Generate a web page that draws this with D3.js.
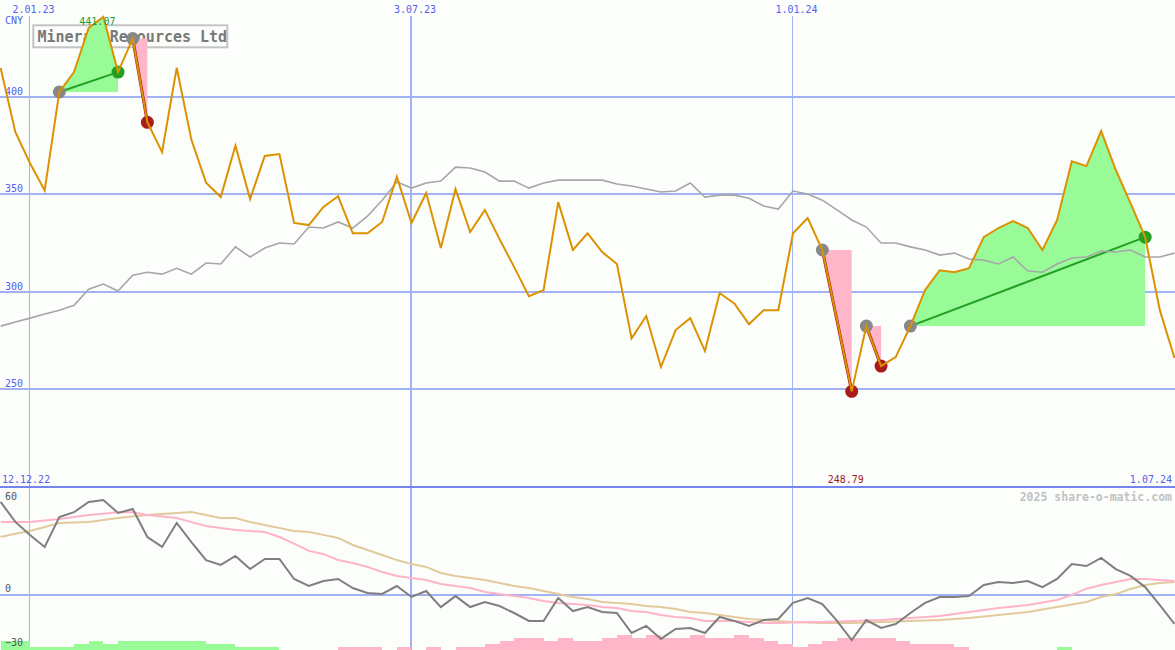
<!DOCTYPE html>
<html><head><meta charset="utf-8">
<script src="https://cdn.jsdelivr.net/npm/d3@7"></script>
<style>
html,body{margin:0;padding:0;background:#fcfefc;}
svg{display:block;}
text{font-family:"DejaVu Sans Mono",monospace;}
</style></head><body>
<svg id="c" width="1175" height="650"></svg>
<script>
// ---------- data ----------
const firstWeek = "2022-12-19";
const lastWeek = "2024-07-01";
const title = "Mineral Resources Ltd";
const currency = "CNY";
const rangeLabels = ["12.12.22", "1.07.24"];
const watermark = "2025 share-o-matic.com";
const dateTicks = ["2023-01-02", "2023-07-03", "2024-01-01"];
const priceTicks = [250, 300, 350, 400];
const oscTicks = [60, 0, -30];

const price = [414.9,382,366,352,402.6,412.8,435.5,441.07,412.8,430,
  387,371.7,415,378,356,348.6,375,347.6,369.7,370.7,
  335.3,334.2,343.5,349,330,330,335.8,359,335.3,350.7,
  322.4,352.7,330.6,342,327,312.6,297.7,300.8,346,321.4,
  330,320.3,314.2,276,287.5,261.3,280.3,286.4,269.5,299.3,
  294,283.3,290.5,290.5,330,337.8,321.4,285.3,248.79,282.3,
  261.8,266.4,282.3,300.8,311,310,312.1,328,332.7,336.3,
  332.7,321.4,336.8,367,364.5,382.5,362.5,345.5,328,290.5,265.9];

const average = [282.3,284.4,286.4,288.5,290.5,293,301.3,303.9,300.3,308.5,
  310,309,312,309,314.7,314.2,323,317.8,322.4,325,
  324.5,333.2,332.7,335.8,332.7,338.8,347,356.3,353.2,355.8,
  356.8,364,363.5,361.5,356.8,356.8,353.2,355.8,357.3,357.3,
  357.3,357.3,355.3,354.3,352.7,351.2,351.7,355.8,348.6,349.6,
  349.6,348,344,342.4,351.7,350.2,347,342,336.8,333.2,
  325,325,323,321.4,318.8,319.8,316.8,316.2,314.2,317.8,
  310.6,310,314.2,317.3,317.8,320.9,320.4,321.4,317.8,317.8,319.8];

const oscillator = [51.7,40.6,33.3,26.7,43.3,46,51.7,52.8,45.6,47.8,
  32.2,26.7,40,29.4,19.4,16.7,21.7,14.4,20,20,
  8.9,5,7.8,8.9,3.9,1.1,0.6,5,-1.1,2.2,
  -6.7,-0.6,-6.7,-3.9,-6.1,-10,-14.4,-14.4,-1.7,-8.9,
  -6.7,-9.4,-10,-21.1,-17.2,-24.4,-18.9,-18.3,-21.1,-12.2,
  -14.4,-17.2,-13.9,-13.3,-4.4,-1.7,-5,-14.4,-25,-13.9,
  -18.3,-16.1,-10,-4.4,-1.1,-1.1,-0.6,5.6,7.2,6.7,
  7.8,4.4,8.9,17.2,16.1,20.6,14.4,10.6,4.4,-5.6,-16.1];

const signalFast = [40.6,40.6,40.6,41.4,42.2,43.3,44.4,45.2,46,46,
  44.4,43.6,42.8,40.5,38.3,37.2,36.1,35.5,35,32.2,
  28.5,24.5,22.8,19.4,17.8,15.6,12.8,10.6,9.4,8.3,
  6.1,5,3.9,1.7,0.6,-0.6,-1.7,-3.3,-4.4,-5,
  -5.6,-6.7,-7.2,-8.9,-9.4,-11.1,-12.2,-12.8,-14.4,-14.4,
  -14.4,-15,-15.6,-15.6,-15.3,-15,-15,-14.7,-14.4,-14.2,
  -13.9,-13.3,-12.8,-12.2,-11.7,-10.6,-9.4,-8.3,-7.2,-6.4,
  -5.6,-4.2,-2.8,0,3.5,5.6,7.2,8.9,8.9,8.3,7.8];

const signalSlow = [32.2,34,35.6,37.8,40,40.3,40.6,41.7,42.8,43.6,
  44.4,45,45.6,46.1,44.4,42.8,42.8,40.6,38.9,37.2,
  35.6,35,33.4,31.7,27.8,25,22.2,19.4,17.2,15.6,
  12.2,10.6,9.4,8.3,6.7,5,3.9,2.2,0.6,-1.1,
  -2.2,-3.9,-4.4,-5,-6.1,-6.7,-7.8,-9.4,-10,-11.1,
  -12.2,-13.3,-13.9,-14.4,-15,-15.3,-15.6,-15.6,-15.6,-15.3,
  -15,-14.7,-14.4,-14.2,-13.9,-13.3,-12.8,-12,-11.1,-10.3,
  -9.4,-8,-6.7,-5.3,-3.9,-1.1,0.6,3.3,5.6,6.7,7.2];

const histogram = [3,3,1,1,1,2,3,2,3,3,
  3,3,3,3,2,2,1,1,1,0,
  0,0,0,-1,-1,-1,0,-1,0,-1,
  0,-1,-1,-2,-3,-4,-4,-3,-4,-3,
  -3,-4,-5,-4,-5,-4,-4,-5,-4,-4,
  -5,-4,-3,-2,-1,-2,-3,-4,-4,-4,
  -4,-3,-2,-2,-2,-1,0,0,0,0,
  0,0,1,0,0,0,0,0,0,0,0];

const tradeStart = [4, 9, 56, 59, 62];
const tradeEnd   = [8, 10, 58, 60, 78];
const tradeKind  = ["gain", "loss", "loss", "loss", "gain"];

// ---------- setup ----------
const W = 1175, H = 650;
const svg = d3.select("#c");
const dates = d3.utcMonday.range(d3.utcParse("%Y-%m-%d")(firstWeek),
  d3.utcDay.offset(d3.utcParse("%Y-%m-%d")(lastWeek), 1));
const x = d3.scaleUtc().domain([dates[0], dates[dates.length - 1]]).range([0.65, 1174.5]);
const y = d3.scaleLinear().domain([250, 400]).range([389, 97]);
const yo = d3.scaleLinear().domain([-30, 60]).range([649, 487]);
const hb = d3.scaleLinear().domain([0, 5]).range([0, 15]);

const BLUE = "#a3b2f2", LABEL = "#5262ee";
const bg = "#fcfefc";
svg.append("rect").attr("width", W).attr("height", H).attr("fill", bg);

// price grid
const gy = svg.append("g").call(d3.axisRight(y).tickValues(priceTicks).tickSize(W).offset(0).tickFormat(d3.format("d")));
gy.select(".domain").remove();
gy.selectAll("line").attr("stroke", BLUE).attr("stroke-width", 2).attr("shape-rendering", "crispEdges");
gy.selectAll("text").attr("x", 5).attr("y", -2).attr("dy", 0).attr("text-anchor", "start")
  .attr("fill", LABEL).attr("font-size", 10).attr("font-family", "DejaVu Sans Mono");

// date grid
const tickDates = dateTicks.map(d3.utcParse("%Y-%m-%d"));
const gx = svg.append("g").attr("transform", "translate(0,16)")
  .call(d3.axisTop(x).tickValues(tickDates).tickSize(-(H - 16)).offset(0).tickFormat(d3.utcFormat("%-d.%m.%y")));
gx.select(".domain").remove();
gx.selectAll("line").attr("stroke", BLUE).attr("shape-rendering", "crispEdges")
  .attr("stroke-width", d => d.getUTCMonth() === 6 ? 2 : 1);
gx.selectAll("text").attr("x", 3.5).attr("y", -3).attr("dy", 0).attr("text-anchor", "middle")
  .attr("fill", LABEL).attr("font-size", 10).attr("font-family", "DejaVu Sans Mono");

// currency
svg.append("text").attr("x", 5).attr("y", 24).attr("fill", LABEL).attr("font-size", 10).text(currency);

// lower panel: histogram
svg.append("g").selectAll("rect").data(histogram.map((v, i) => ({v, i})).filter(d => d.v !== 0))
  .join("rect")
  .attr("x", d => x(dates[d.i]))
  .attr("width", d => x(dates[d.i + 1]) - x(dates[d.i]))
  .attr("y", d => H - hb(Math.abs(d.v)))
  .attr("height", d => hb(Math.abs(d.v)))
  .attr("fill", d => d.v > 0 ? "#98fb98" : "#ffb6c8")
  .attr("shape-rendering", "crispEdges");

// lower axis
const go = svg.append("g").call(d3.axisRight(yo).tickValues(oscTicks).tickSize(W).offset(0).tickFormat(d3.format("d")));
go.select(".domain").remove();
go.selectAll("line").attr("stroke", d => d === 0 ? BLUE : "none").attr("stroke-width", 2).attr("shape-rendering", "crispEdges");
go.selectAll("text").attr("x", 5).attr("y", d => d === yo.domain()[1] ? 13 : -3).attr("dy", 0)
  .attr("text-anchor", "start").attr("fill", "#555").attr("font-size", 10).attr("font-family", "DejaVu Sans Mono");

// panel separator
svg.append("line").attr("x1", 0).attr("x2", W).attr("y1", yo(60)).attr("y2", yo(60))
  .attr("stroke", "#7585ef").attr("stroke-width", 2).attr("shape-rendering", "crispEdges");

const lineO = d3.line().x((d, i) => x(dates[i])).y(d => yo(d));
svg.append("path").datum(signalSlow).attr("d", lineO).attr("fill", "none").attr("stroke", "#e2ca9c").attr("stroke-width", 2);
svg.append("path").datum(signalFast).attr("d", lineO).attr("fill", "none").attr("stroke", "#ffb3c9").attr("stroke-width", 2);
svg.append("path").datum(oscillator).attr("d", lineO).attr("fill", "none").attr("stroke", "#7f7f7f").attr("stroke-width", 2);

// title box
svg.append("rect").attr("x", 33.3).attr("y", 25.3).attr("width", 194).attr("height", 22)
  .attr("fill", bg).attr("stroke", "#c4c4c4").attr("stroke-width", 2);
svg.append("text").attr("x", 37.5).attr("y", 41.5).attr("fill", "#787878").attr("font-size", 15)
  .attr("font-weight", "bold").text(title);

// trade fills
const trades = tradeStart.map((s, k) => ({s, e: tradeEnd[k], kind: tradeKind[k]}));
trades.forEach(t => {
  const idx = d3.range(t.s, t.e + 1);
  const base = price[t.s];
  const area = d3.area().x(i => x(dates[i])).y0(() => y(base)).y1(i => y(price[i]));
  svg.append("path").datum(idx).attr("d", area)
    .attr("fill", t.kind === "gain" ? "#98fb98" : "#ffb6c8");
});
trades.forEach(t => {
  svg.append("line")
    .attr("x1", x(dates[t.s])).attr("y1", y(price[t.s]))
    .attr("x2", x(dates[t.e])).attr("y2", y(price[t.e]))
    .attr("stroke", t.kind === "gain" ? "#23a023" : "#a81c1c").attr("stroke-width", t.kind === "gain" ? 2 : 3);
});

// moving average & price
const lineP = d3.line().x((d, i) => x(dates[i])).y(d => y(d));
svg.append("path").datum(average).attr("d", lineP).attr("fill", "none").attr("stroke", "#a6a6a6").attr("stroke-width", 1.6);

// dots
trades.forEach(t => {
  svg.append("circle").attr("cx", x(dates[t.s])).attr("cy", y(price[t.s])).attr("r", 6.5).attr("fill", "#888888");
  svg.append("circle").attr("cx", x(dates[t.e])).attr("cy", y(price[t.e])).attr("r", 6.5)
    .attr("fill", t.kind === "gain" ? "#23a023" : "#a81c1c");
});

svg.append("path").datum(price).attr("d", lineP).attr("fill", "none").attr("stroke", "#dc9200").attr("stroke-width", 2).attr("stroke-linejoin", "miter");

// high / low labels
const hi = d3.maxIndex(price), lo = d3.minIndex(price);
svg.append("text").attr("x", x(dates[hi]) - 6).attr("y", 25).attr("text-anchor", "middle")
  .attr("fill", "#1f9a1f").attr("font-size", 10).text(price[hi].toFixed(2));
svg.append("text").attr("x", x(dates[lo]) - 6).attr("y", 483).attr("text-anchor", "middle")
  .attr("fill", "#a01c1c").attr("font-size", 10).text(price[lo].toFixed(2));

// range labels
svg.append("text").attr("x", 2).attr("y", 483).attr("fill", LABEL).attr("font-size", 10).text(rangeLabels[0]);
svg.append("text").attr("x", 1172).attr("y", 483).attr("text-anchor", "end").attr("fill", LABEL).attr("font-size", 10).text(rangeLabels[1]);

// watermark
svg.append("text").attr("x", 1172).attr("y", 501).attr("text-anchor", "end").attr("fill", "#c2c2c2")
  .attr("font-size", 11.5).attr("font-weight", "bold").text(watermark);
</script>
</body></html>
